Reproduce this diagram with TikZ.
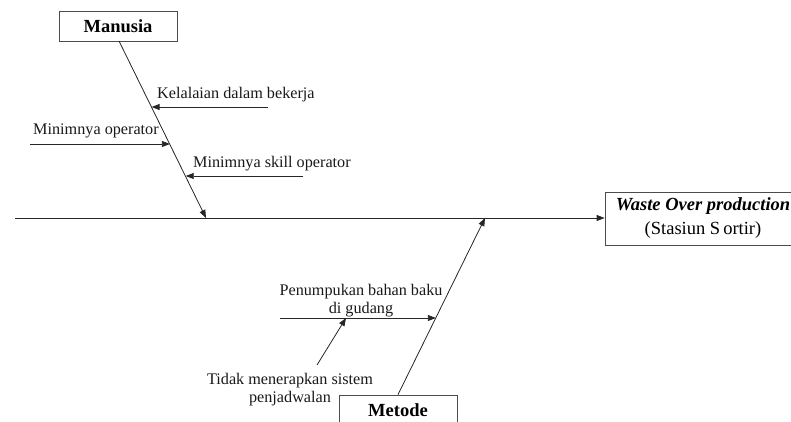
\documentclass[tikz,border=0pt]{standalone}
\usepackage{fontspec}
\setmainfont{Liberation Serif}
\usetikzlibrary{arrows.meta,calc}
\begin{document}
\begin{tikzpicture}[x=1pt,y=-1pt,
  bone/.style={draw=black!85, line width=0.8pt},
  arr/.style={bone, -{Triangle[length=8pt,width=6pt]}},
  lbl/.style={inner sep=0pt, font=\fontsize{16.2}{17.5}\selectfont, text=black!90},
  catbox/.style={draw=black!70, line width=0.8pt, minimum width=118pt,
    minimum height=30pt, inner sep=0pt, fill=white,
    font=\bfseries\fontsize{18.5}{20}\selectfont}]
\useasboundingbox (0,0) rectangle (791,421);
\clip (0,0) rectangle (791,421);

% effect box at the head of the fish
\node[draw=black!70, line width=0.8pt, minimum width=196pt, minimum height=53pt,
      inner sep=0pt, align=center, font=\fontsize{18.5}{24}\selectfont]
  (effect) at (703,218.5)
  {{\bfseries\itshape Waste Over production}\\(Stasiun S\kern3pt ortir)};

% main spine
\coordinate (tail) at (15,218);
\draw[arr] (tail) -- (effect.west |- tail);

% category: Manusia
\node[catbox] (manusia) at (118,26) {Manusia};
\coordinate (mtop) at (119,41);
\coordinate (mbot) at (206,218);
\draw[arr] (mtop) -- (mbot);

\coordinate (k0) at (268,107);
\coordinate (k1) at ($(mtop)!0.375!(mbot)$);
\draw[arr] (k0) -- (k1 |- k0);
\node[lbl, anchor=base west] (kelalaian) at (157,98) {Kelalaian dalam bekerja};

\coordinate (o0) at (30,144);
\coordinate (o1) at ($(mtop)!0.585!(mbot)$);
\draw[arr] (o0) -- (o1 |- o0);
\node[lbl, anchor=base west] (operator) at (33,134) {Minimnya operator};

\coordinate (s0) at (303,176);
\coordinate (s1) at ($(mtop)!0.767!(mbot)$);
\draw[arr] (s0) -- (s1 |- s0);
\node[lbl, anchor=base west] (skill) at (193,167) {Minimnya skill operator};

% category: Metode
\node[catbox] (metode) at (398,410) {Metode};
\coordinate (dtip) at (485,218);
\draw[arr] (metode.north) -- (dtip);

\coordinate (p0) at (280,318);
\coordinate (p1) at ($(metode.north)!0.435!(dtip)$);
\draw[arr] (p0) -- (p1 |- p0);
% base anchor of a multi-line node sits on its last line
\node[lbl, align=center, anchor=base] (penumpukan) at (361,313)
  {Penumpukan bahan baku\\di gudang};

\coordinate (t0) at (317,365);
\coordinate (t1) at (346,318);
\draw[arr] (t0) -- (t1);
\node[lbl, align=center, anchor=base] (jadwal) at (290,402)
  {Tidak menerapkan sistem\\penjadwalan};
\end{tikzpicture}
\end{document}
